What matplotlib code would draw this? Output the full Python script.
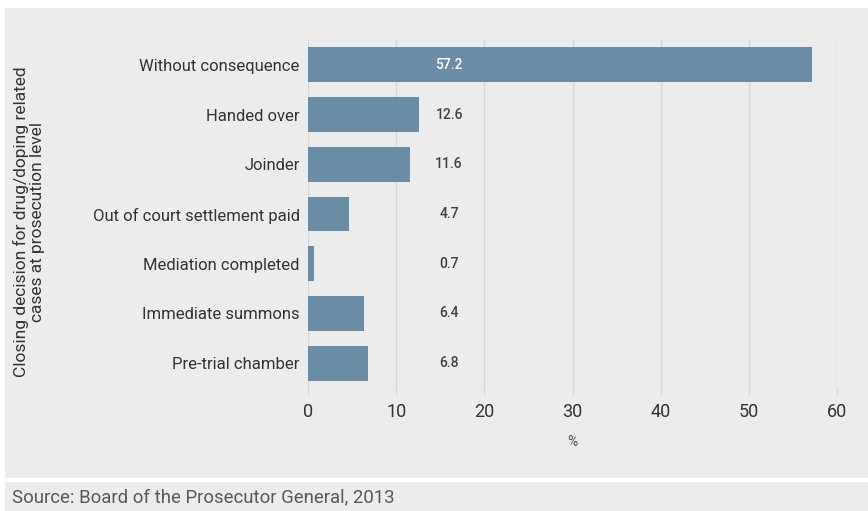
import matplotlib
matplotlib.use("Agg")
import matplotlib.pyplot as plt
from matplotlib.patches import Rectangle

# data
categories = ["Without consequence", "Handed over", "Joinder",
              "Out of court settlement paid", "Mediation completed",
              "Immediate summons", "Pre-trial chamber"]
values = [57.2, 12.6, 11.6, 4.7, 0.7, 6.4, 6.8]
xticks = [0, 10, 20, 30, 40, 50, 60]

bg = "#ebeceb"
bar_color = "#6a8ca5"
grid_color = "#d6d7d6"
text_color = "#333333"

plt.rcParams['font.family'] = ['Roboto', 'DejaVu Sans']

W, H = 868, 511
fig = plt.figure(figsize=(W / 100, H / 100), dpi=100)
fig.patch.set_facecolor("white")

# gray panels
fig.patches.append(Rectangle((5 / W, 1 - 478 / H), 1 - 5 / W, 470 / H,
                             transform=fig.transFigure, facecolor=bg,
                             edgecolor="none", zorder=-5))
fig.patches.append(Rectangle((5 / W, 0), 1 - 5 / W, 29 / H,
                             transform=fig.transFigure, facecolor=bg,
                             edgecolor="none", zorder=-5))

ax = fig.add_axes([308 / W, 1 - 388 / H, (837 - 308) / W, (388 - 40) / H])
ax.set_facecolor("none")
ax.set_zorder(1)

y = list(range(len(categories)))
ax.barh(y, values, height=0.7, color=bar_color, zorder=2)

for i, v in enumerate(values):
    col = "white" if v > 20 else "#404040"
    ax.text(16, i, f"{v:.1f}", ha="center", va="center", fontsize=10,
            fontweight="medium", color=col, zorder=3)

ax.set_ylim(6.5, -0.5)
ax.set_xlim(0, 60)
ax.set_xticks(xticks)
ax.set_yticks(y)
ax.set_yticklabels(categories, fontsize=12, color=text_color)
ax.tick_params(axis="y", length=0, pad=6)
ax.tick_params(axis="x", length=5, color=grid_color, labelsize=13,
               labelcolor=text_color, pad=6)
ax.grid(axis="x", color=grid_color, linewidth=1, zorder=0)
ax.set_axisbelow(True)
for s in ax.spines.values():
    s.set_visible(False)

ax.set_xlabel("%", fontsize=10, color="#555555", labelpad=10)
fig.text(29 / W, 1 - 222 / H,
         "Closing decision for drug/doping related\ncases at prosecution level",
         rotation=90, ha="center", va="center", fontsize=12.5,
         color=text_color, linespacing=1.15)

fig.text(12 / W, 14 / H, "Source: Board of the Prosecutor General, 2013",
         ha="left", va="center", fontsize=13.4, color="#595959")

fig.savefig("out.png", dpi=100)
